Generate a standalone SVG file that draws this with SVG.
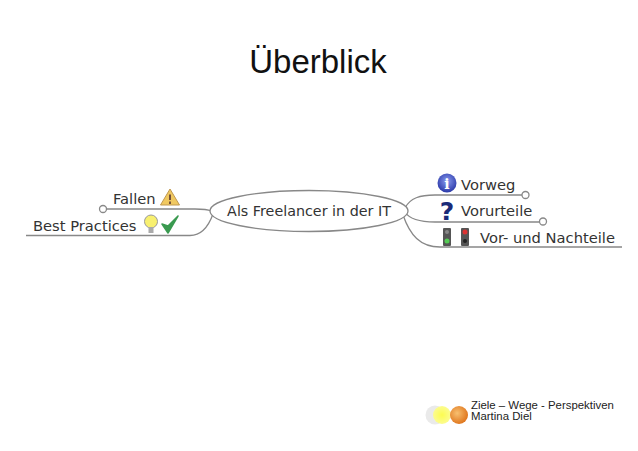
<svg xmlns="http://www.w3.org/2000/svg" width="638" height="451" viewBox="0 0 638 451">
<style>
.l{font-family:"DejaVu Sans",sans-serif;font-size:14.7px;fill:#333}
.c{fill:none;stroke:#888;stroke-width:1.3}
.f{font-family:"Liberation Sans",sans-serif;font-size:11.4px;fill:#222}
.h{fill:#fff;stroke:#888;stroke-width:1.3}
</style>
<defs>
<radialGradient id="o" cx="0.4" cy="0.4" r="0.6"><stop offset="0" stop-color="#f8c070"/><stop offset="1" stop-color="#e07820"/></radialGradient>
<radialGradient id="b" cx="0.5" cy="0.4" r="0.6"><stop offset="0" stop-color="#8a9cf0"/><stop offset="1" stop-color="#2a38a8"/></radialGradient>
<radialGradient id="y" cx="0.5" cy="0.5" r="0.5"><stop offset="0" stop-color="#fcfc50"/><stop offset="1" stop-color="#fcfc90"/></radialGradient>
</defs>
<rect width="638" height="451" fill="#fff"/>
<text x="318" y="73" text-anchor="middle" font-family="Liberation Sans,sans-serif" font-size="33" fill="#111">Überblick</text>
<g id="connectors">
<path class="c" d="M107 209H195C203 209 207 209 211 211"/>
<path class="c" d="M26 235.500H190C202 235.500 209 225 213 214"/>
<path class="c" d="M405 208C410 198 420 195 435 195H522"/>
<path class="c" d="M405 212C410 220 422 222 435 222H540"/>
<path class="c" d="M403 215C410 235 420 247 440 247H622"/>
</g>
<g id="root">
<ellipse cx="309" cy="211" rx="99" ry="20.500" fill="#fff" stroke="#888" stroke-width="1.300"/>
<text class="l" x="309" y="216" text-anchor="middle" style="font-size:14.3px">Als Freelancer in der IT</text>
</g>
<g id="fallen">
<circle class="h" cx="103" cy="209" r="3.500"/>
<text class="l" x="113" y="203.500">Fallen</text>
<path d="M170 189L179.500 205H160.500Z" fill="#f0c860" stroke="#c09850"/>
<path d="M170 194.500V200M170 201.500V204" stroke="#533" stroke-width="1.600"/>
</g>
<g id="best">
<text class="l" x="33" y="230.500">Best Practices</text>
<circle cx="151" cy="221.500" r="6.500" fill="#f8f070" stroke="#999"/>
<rect x="148.500" y="227" width="5" height="6" fill="#aaa"/>
<path d="M162 224L168 233L178 216L168 226Z" fill="#3a9a50" stroke="#3a9a50" stroke-width="1.500" stroke-linejoin="round"/>
</g>
<g id="vorweg">
<circle cx="447" cy="183" r="9.500" fill="url(#b)"/>
<text x="447" y="189" text-anchor="middle" font-family="DejaVu Serif,serif" font-weight="bold" font-size="14" fill="#fff">i</text>
<text class="l" x="461" y="190">Vorweg</text>
<circle class="h" cx="525.500" cy="195" r="3.500"/>
</g>
<g id="vorurteile">
<text x="447" y="220" text-anchor="middle" font-family="DejaVu Sans,sans-serif" font-weight="bold" font-size="25" fill="#1a2a78">?</text>
<text class="l" x="461" y="216">Vorurteile</text>
<circle class="h" cx="543" cy="221.500" r="3.500"/>
</g>
<g id="nachteile">
<rect x="443" y="228" width="8" height="18" rx="1" fill="#555"/>
<circle cx="447" cy="232" r="2" fill="#888"/><circle cx="447" cy="241" r="2.500" fill="#5c5"/>
<rect x="461" y="228" width="8" height="18" rx="1" fill="#555"/>
<circle cx="465" cy="232" r="2.500" fill="#d33"/><circle cx="465" cy="241" r="2" fill="#222"/>
<text class="l" x="480" y="243">Vor- und Nachteile</text>
</g>
<g id="footer">
<circle cx="435" cy="415" r="9.500" fill="#eaeaea"/>
<circle cx="442" cy="415" r="9" fill="url(#y)"/>
<circle cx="459" cy="415" r="9" fill="url(#o)"/>
<text class="f" x="471" y="408.500">Ziele – Wege - Perspektiven</text>
<text class="f" x="471" y="419.500">Martina Diel</text>
</g>
</svg>
